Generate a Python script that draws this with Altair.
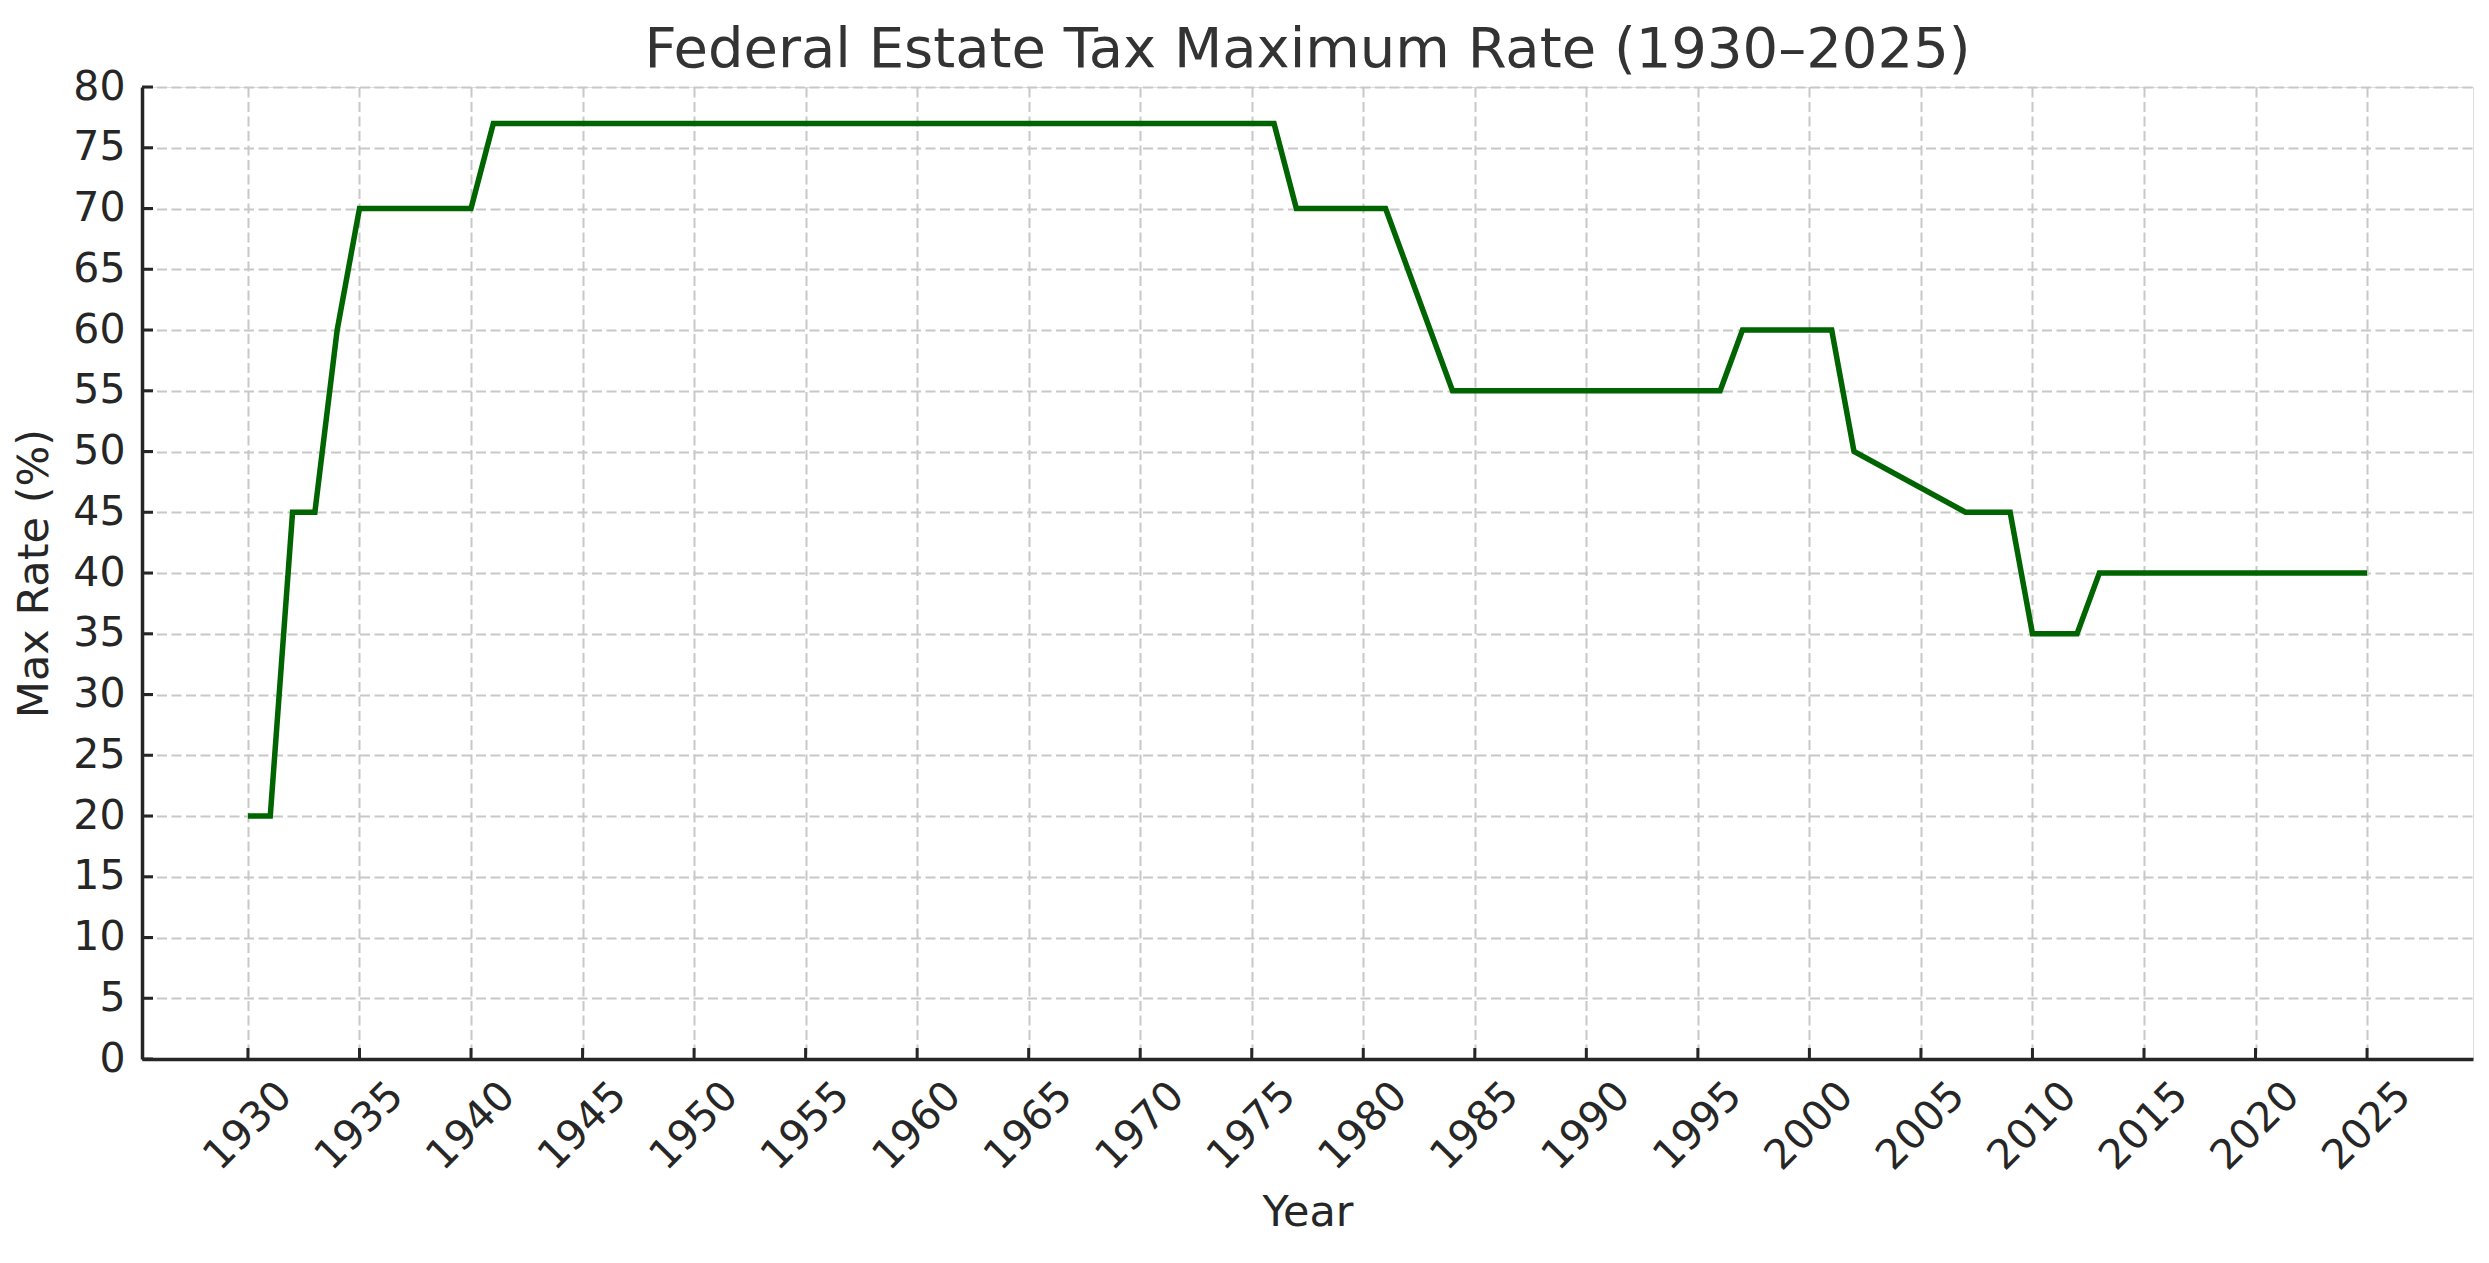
import altair as alt
import pandas as pd

years = [1930, 1931, 1932, 1933, 1934, 1935, 1940, 1941, 1976, 1977, 1981,
         1984, 1996, 1997, 2001, 2002, 2007, 2009, 2010, 2012, 2013, 2025]
rates = [20, 20, 45, 45, 60, 70, 70, 77, 77, 70, 70,
         55, 55, 60, 60, 50, 45, 45, 35, 35, 40, 40]
x_ticks = list(range(1930, 2030, 5))
y_ticks = list(range(0, 85, 5))

W, H = 2331, 972
FONT = "DejaVu Sans"
AX = "#262626"

df = pd.DataFrame({"Year": years, "Rate": rates})
xt = pd.DataFrame({"Year": x_ticks})
yt = pd.DataFrame({"Rate": y_ticks})

xscale = alt.Scale(domain=[1925.25, 2029.75], nice=False, zero=False)
yscale = alt.Scale(domain=[0, 80], nice=False)

xaxis = alt.Axis(values=x_ticks, format="d", title="Year", labelAngle=315,
                 labelAlign="center", labelBaseline="middle", labelPadding=67,
                 ticks=False, tickSize=0, labelOverlap=False, labelFlush=False,
                 labelFontSize=41, labelFont=FONT, labelColor=AX,
                 titleFontSize=43, titleFont=FONT, titleColor=AX, titleFontWeight="normal",
                 titleX=W / 2, titleY=166, titleBaseline="alphabetic", titleAlign="center",
                 domainColor=AX, domainWidth=3.5,
                 grid=True, gridColor="#c8c8c8", gridDash=[10, 4.5], gridWidth=2)
yaxis = alt.Axis(values=y_ticks, title="Max Rate (%)", labelPadding=17,
                 ticks=False, tickSize=0, labelOverlap=False, labelFlush=False,
                 labelFontSize=41, labelFont=FONT, labelColor=AX,
                 titleFontSize=43, titleFont=FONT, titleColor=AX, titleFontWeight="normal",
                 titleX=-108, titleY=H / 2, titleAngle=270, titleBaseline="middle",
                 titleAlign="center",
                 domainColor=AX, domainWidth=3.5,
                 grid=True, gridColor="#c8c8c8", gridDash=[10, 4.5], gridWidth=2)

line = alt.Chart(df).mark_line(color="#006400", strokeWidth=5.5, clip=False).encode(
    x=alt.X("Year:Q", scale=xscale, axis=xaxis),
    y=alt.Y("Rate:Q", scale=yscale, axis=yaxis),
)

xtick_marks = alt.Chart(xt).mark_rule(color=AX, strokeWidth=3).encode(
    x=alt.X("Year:Q", scale=xscale, axis=xaxis),
    y=alt.value(H),
    y2=alt.value(H - 11),
)
ytick_marks = alt.Chart(yt).mark_rule(color=AX, strokeWidth=3).encode(
    y=alt.Y("Rate:Q", scale=yscale, axis=yaxis),
    x=alt.value(0),
    x2=alt.value(11),
)

chart = alt.layer(line, xtick_marks, ytick_marks).properties(
    width=W, height=H,
    title=alt.TitleParams("Federal Estate Tax Maximum Rate (1930–2025)",
                          fontSize=56, font=FONT, color="#333333", fontWeight="normal",
                          anchor="middle", frame="group", offset=8, dy=21),
    autosize=alt.AutoSizeParams(type="none"),
    padding={"left": 134, "top": 79, "right": 8, "bottom": 190},
).configure_view(stroke=None).configure(background="white")

chart.save("out.html", embed_options={"renderer": "svg", "actions": False})
